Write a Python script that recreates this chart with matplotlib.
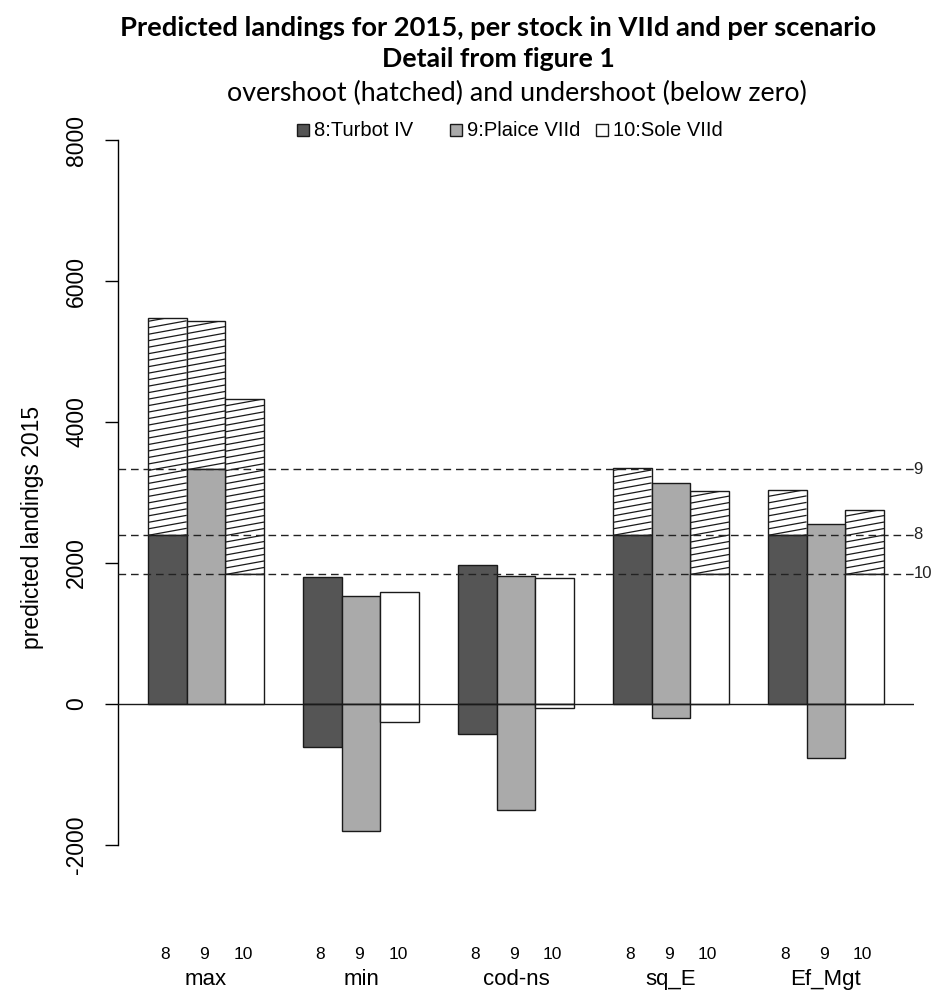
import numpy as np
import matplotlib
matplotlib.use("Agg")
import matplotlib.pyplot as plt
import matplotlib.transforms as mtransforms
from matplotlib.patches import Rectangle
from matplotlib.collections import LineCollection

scenarios = ["max", "min", "cod-ns", "sq_E", "Ef_Mgt"]
stock_ids = ["8", "9", "10"]
stock_names = ["8:Turbot IV", "9:Plaice VIId", "10:Sole VIId"]
stock_colors = ["#555555", "#aaaaaa", "#ffffff"]

# TAC 2015 per stock (dashed lines)
tac = [2400, 3330, 1845]

# predicted landings 2015 per scenario, stocks 8 / 9 / 10
landings_max = [5473, 5431, 4325]
landings_min = [1796, 1531, 1593]
landings_codns = [1971, 1820, 1782]
landings_sqE = [3341, 3138, 3015]
landings_efmgt = [3034, 2557, 2751]

landings = np.array([landings_max, landings_min, landings_codns,
                     landings_sqE, landings_efmgt])

plt.rcParams['font.family'] = ['Liberation Sans', 'DejaVu Sans']
plt.rcParams['axes.unicode_minus'] = False

EDGE = "#1a1a1a"


def hatch_rect(ax, patch, x0, y0, y1, step=92, rise=100):
    # slanted hatch lines, clipped to the overshoot rectangle
    ys = np.arange(y0 - rise, y1 + step, step)
    segs = [[(x0, y), (x0 + 1, y + rise)] for y in ys]
    lc = LineCollection(segs, colors=EDGE, linewidths=0.9, zorder=2.5)
    ax.add_collection(lc)
    lc.set_clip_path(patch)


fig = plt.figure(figsize=(9.33, 9.91), dpi=100)
ax = fig.add_axes([0.127, 0.0449, 0.8521, 0.8451])
ax.set_xlim(0.24, 20.76)
ax.set_ylim(-3440, 8440)

for g in range(len(scenarios)):
    for s in range(len(stock_ids)):
        x0 = 1 + 4 * g + s
        val = landings[g, s]
        diff = val - tac[s]
        if diff > 0:
            outline = Rectangle((x0, tac[s]), 1, diff, facecolor="white",
                                edgecolor=EDGE, lw=1.0, zorder=2)
            ax.add_patch(outline)
            hatch_rect(ax, outline, x0, tac[s], val)
        ax.bar(x0, min(val, tac[s]), width=1, align='edge',
               color=stock_colors[s], edgecolor=EDGE, lw=1.0, zorder=3)
        if diff < 0:
            ax.bar(x0, diff, width=1, align='edge',
                   color=stock_colors[s], edgecolor=EDGE, lw=1.0, zorder=3)

# TAC reference lines with stock id on the right
for s, t in enumerate(tac):
    ax.axhline(t, color="#222222", lw=1.0, ls=(0, (5.5, 3.5)), zorder=4)
    ax.annotate(stock_ids[s], xy=(1, t), xycoords=('axes fraction', 'data'),
                xytext=(0, 0), textcoords='offset points',
                ha='left', va='center', fontsize=12, color="#222222",
                annotation_clip=False)

ax.axhline(0, color=EDGE, lw=1.0, zorder=5)

for side in ['top', 'right', 'bottom']:
    ax.spines[side].set_visible(False)
ax.spines['left'].set_bounds(-2000, 8000)
ax.spines['left'].set_linewidth(1.0)
ax.set_yticks(np.arange(-2000, 8001, 2000))
ax.tick_params(axis='y', length=9.4, width=1.0, pad=12.5, labelsize=16.5,
               labelrotation=90)
for lab in ax.get_yticklabels():
    lab.set_va('center')
ax.set_xticks([])

fig.text(33 / 933, 1 - 527 / 991, "predicted landings 2015", rotation=90,
         ha='center', va='center', fontsize=16.5)

# stock ids under each bar, scenario names under each group
trans = mtransforms.blended_transform_factory(ax.transData, fig.transFigure)
for g, name in enumerate(scenarios):
    for s, sid in enumerate(stock_ids):
        ax.text(1 + 4 * g + s + 0.45, 0.0323, sid, transform=trans,
                ha='center', va='baseline', fontsize=12.5)
    ax.text(1 + 4 * g + 1.5, 0.006, name, transform=trans,
            ha='center', va='baseline', fontsize=16)

# legend row along the top
leg_x = [303, 456, 602]
for s, name in enumerate(stock_names):
    fig.patches.append(Rectangle((leg_x[s] / 933 - 6 / 933, 1 - 136 / 991),
                                 12 / 933, 12 / 991, transform=fig.transFigure,
                                 facecolor=stock_colors[s], edgecolor=EDGE,
                                 lw=1.0))
    fig.text((leg_x[s] + 11) / 933, 1 - 130 / 991, name, ha='left',
             va='center', fontsize=14.5)

fig.text(498 / 933, 1 - 28 / 991,
         "Predicted landings for 2015, per stock in VIId and per scenario",
         ha='center', va='center', fontsize=19.7, fontweight='bold',
         family=['Lato', 'DejaVu Sans'])
fig.text(498 / 933, 1 - 59 / 991, "Detail from figure 1",
         ha='center', va='center', fontsize=19.2, fontweight='bold',
         family=['Lato', 'DejaVu Sans'])
fig.text(517 / 933, 1 - 93 / 991,
         "overshoot (hatched) and undershoot (below zero)",
         ha='center', va='center', fontsize=19.3,
         family=['Lato', 'DejaVu Sans'])

fig.savefig("out.png", dpi=100)
